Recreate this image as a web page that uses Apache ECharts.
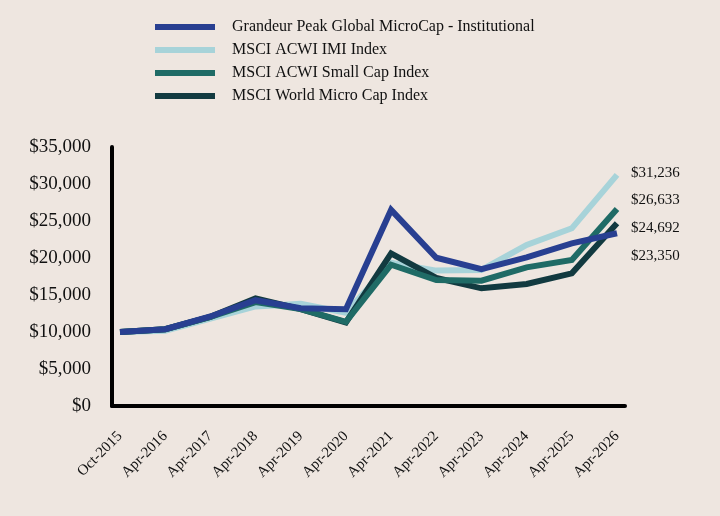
<!DOCTYPE html>
<html>
<head>
<meta charset="utf-8">
<script src="https://cdn.jsdelivr.net/npm/echarts@6/dist/echarts.min.js"></script>
<style>
  html, body { margin: 0; padding: 0; background: #eee6e0; }
  #chart { width: 720px; height: 516px; }
</style>
</head>
<body>
<div id="chart"></div>
<script>
// growth of $10,000
var categories = ['Oct-2015', 'Apr-2016', 'Apr-2017', 'Apr-2018', 'Apr-2019', 'Apr-2020',
  'Apr-2021', 'Apr-2022', 'Apr-2023', 'Apr-2024', 'Apr-2025', 'Apr-2026'];
var grandeur = [10000, 10380, 12100, 14300, 13200, 13070, 26500, 20040, 18500, 20090, 21980, 23350];
var acwiImi = [10000, 10180, 11800, 13450, 13800, 12600, 19370, 18300, 18380, 21760, 24010, 31236];
var acwiSmall = [10000, 10380, 12050, 14050, 13100, 11380, 19100, 17030, 16930, 18740, 19730, 26633];
var worldMicro = [10000, 10380, 12050, 14550, 13100, 11300, 20630, 17300, 15900, 16490, 17930, 24692];
var yTicks = [0, 5000, 10000, 15000, 20000, 25000, 30000, 35000];

var serif = '"Liberation Serif", "DejaVu Serif", serif';
var names = ['Grandeur Peak Global MicroCap - Institutional', 'MSCI ACWI IMI Index',
  'MSCI ACWI Small Cap Index', 'MSCI World Micro Cap Index'];
var colors = ['#283f91', '#a7d3d9', '#1f6b66', '#123a40'];

function fmt(v) {
  return '$' + Math.round(v).toString().replace(/\B(?=(\d{3})+(?!\d))/g, ',');
}

function line(idx, data, z, dy) {
  return {
    name: names[idx],
    type: 'line',
    xAxisIndex: 0,
    yAxisIndex: 0,
    data: data,
    z: z,
    symbol: 'none',
    lineStyle: { color: colors[idx], width: 6, join: 'miter' },
    itemStyle: { color: colors[idx] },
    endLabel: {
      show: true,
      formatter: function (p) { return fmt(p.value); },
      fontFamily: serif,
      fontSize: 15,
      color: '#111',
      distance: 5,
      offset: [9, dy]
    },
    emphasis: { disabled: true }
  };
}

var chart = echarts.init(document.getElementById('chart'));
chart.setOption({
  animation: false,
  backgroundColor: '#eee6e0',
  legend: {
    orient: 'vertical',
    left: 150,
    top: 13,
    itemWidth: 60,
    itemHeight: 6,
    itemGap: 5,
    icon: 'rect',
    data: names,
    textStyle: { fontFamily: serif, fontSize: 16, color: '#111', lineHeight: 18, padding: [0, 0, 0, 12] }
  },
  grid: [
    { left: 120, right: 103, top: 147, bottom: 110 },
    { left: 112, right: 95, top: 147, bottom: 110 }
  ],
  xAxis: [
    {
      type: 'category',
      gridIndex: 0,
      data: categories,
      boundaryGap: false,
      axisLine: { show: false },
      axisTick: { show: false },
      axisLabel: {
        rotate: 45,
        margin: 28,
        fontFamily: serif,
        fontSize: 15,
        color: '#111',
        interval: 0
      }
    },
    {
      type: 'value',
      gridIndex: 1,
      min: 0,
      max: 1,
      axisLine: { show: true, lineStyle: { color: '#000', width: 4 } },
      axisTick: { show: false },
      axisLabel: { show: false },
      splitLine: { show: false }
    }
  ],
  yAxis: [
    {
      type: 'value',
      gridIndex: 0,
      min: 0,
      max: 35000,
      interval: 5000,
      show: false,
      splitLine: { show: false }
    },
    {
      type: 'value',
      gridIndex: 1,
      min: yTicks[0],
      max: yTicks[yTicks.length - 1],
      interval: 5000,
      axisLine: { show: true, lineStyle: { color: '#000', width: 4 } },
      axisTick: { show: false },
      splitLine: { show: false },
      axisLabel: {
        margin: 21,
        fontFamily: serif,
        fontSize: 19,
        color: '#111',
        formatter: fmt
      }
    }
  ],
  series: [
    line(1, acwiImi, 2, -2),
    line(3, worldMicro, 3, 5),
    line(2, acwiSmall, 4, -9),
    line(0, grandeur, 5, 23)
  ]
});
</script>
</body>
</html>
